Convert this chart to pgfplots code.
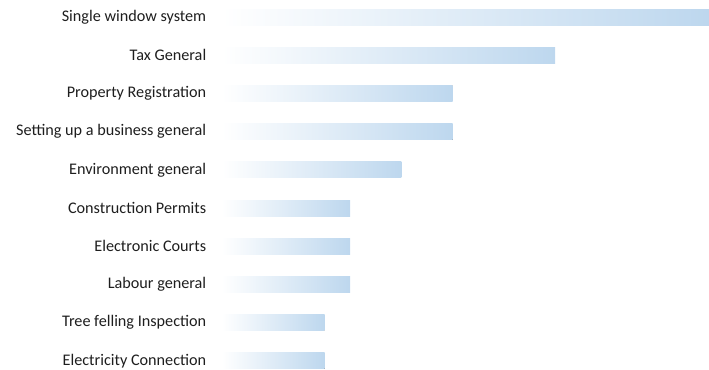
\documentclass[border=0pt]{standalone}
\usepackage{pgfplots}
\pgfplotsset{compat=1.18}
\usepackage{fontspec}
\setmainfont{Carlito}
\definecolor{barblue}{RGB}{189,215,238}
\definecolor{labeltext}{RGB}{30,30,30}
\begin{document}
\begin{tikzpicture}
\begin{axis}[
  width=709pt, height=370pt, scale only axis,
  xmin=-8.66, xmax=19,
  ymin=-0.445, ymax=9.236, y dir=reverse,
  xbar, bar width=16pt, bar shift=0pt,
  axis line style={draw=none}, tick style={draw=none},
  xtick=\empty,
  ytick={0,...,9},
  yticklabels={Single window system, Tax General, Property Registration,
    Setting up a business general, Environment general, Construction Permits,
    Electronic Courts, Labour general, Tree felling Inspection, Electricity Connection},
  yticklabel style={anchor=east, xshift=214pt, text=labeltext,
    font=\fontsize{16.2}{19}\selectfont},
  every axis plot/.append style={draw=none, left color=white, right color=barblue},
  clip=false
]
% one plot per bar so that each bar gets its own gradient
\addplot coordinates {(19,0)};
\addplot coordinates {(13,1)};
\addplot coordinates {(9,2)};
\addplot coordinates {(9,3)};
\addplot coordinates {(7,4)};
\addplot coordinates {(5,5)};
\addplot coordinates {(5,6)};
\addplot coordinates {(5,7)};
\addplot coordinates {(4,8)};
\addplot coordinates {(4,9)};
\end{axis}
\pgfresetboundingbox
\path[use as bounding box] (current axis.south west) rectangle (current axis.north east);
\end{tikzpicture}
\end{document}
